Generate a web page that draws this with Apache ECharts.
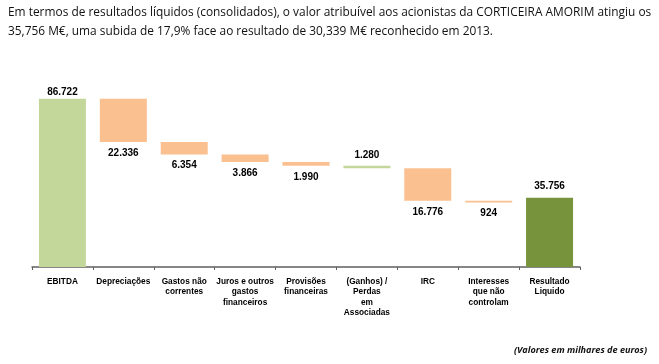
<!DOCTYPE html>
<html>
<head>
<meta charset="utf-8">
<script src="https://cdn.jsdelivr.net/npm/echarts@6/dist/echarts.min.js"></script>
<style>
html,body{margin:0;padding:0;background:#fff;}
#c{width:659px;height:364px;}
</style>
</head>
<body>
<div id="c"></div>
<script>
var titleLines = [
  "Em termos de resultados líquidos (consolidados), o valor atribuível aos acionistas da CORTICEIRA AMORIM atingiu os",
  "35,756 M€, uma subida de 17,9% face ao resultado de 30,339 M€ reconhecido em 2013."
];
var footnote = "(Valores em milhares de euros)";
var categories = ["EBITDA", "Depreciações", "Gastos não\ncorrentes", "Juros e outros\ngastos\nfinanceiros",
  "Provisões\nfinanceiras", "(Ganhos) /\nPerdas\nem\nAssociadas", "IRC", "Interesses\nque não\ncontrolam", "Resultado\nLiquido"];
// displayed amounts (thousand euros)
var amounts = [86722, 22336, 6354, 3866, 1990, 1280, 16776, 924, 35756];
// floating base of each bar as drawn in the picture
var bases = [0, 64386, 58032, 54166, 52176, 50896, 34120, 33196, 0];
// bar kind: total, decrease, increase
var kinds = ["total", "down", "down", "down", "down", "up", "down", "down", "final"];

var colors = { total: "#C4D79B", down: "#FAC090", up: "#C4D79B", final: "#77933C" };

function fmt(v) {
  return String(v).replace(/\B(?=(\d{3})+(?!\d))/g, ".");
}

var chart = echarts.init(document.getElementById("c"), null, { renderer: "canvas" });

var deltaData = amounts.map(function (v, i) {
  var k = kinds[i];
  var below = (k === "down");
  return {
    value: v,
    itemStyle: { color: colors[k] },
    label: {
      show: true,
      position: below ? "bottom" : "top",
      distance: below ? 6 : (k === "total" ? 2 : 6)
    }
  };
});

chart.setOption({
  animation: false,
  backgroundColor: "#ffffff",
  grid: { left: 32, right: 79, top: 73, bottom: 97, containLabel: false },
  xAxis: {
    type: "category",
    data: categories,
    boundaryGap: true,
    axisLine: { show: true, lineStyle: { color: "#5f5f5f", width: 1.5 } },
    axisTick: { show: true, alignWithLabel: false, length: 3, lineStyle: { color: "#5f5f5f", width: 1 } },
    axisLabel: {
      interval: 0,
      margin: 9,
      color: "#000",
      fontFamily: "Liberation Sans, Arial, sans-serif",
      fontWeight: "bold",
      fontSize: 8.3,
      lineHeight: 10.5
    }
  },
  yAxis: {
    type: "value",
    min: 0,
    max: 100000,
    show: false,
    splitLine: { show: false }
  },
  series: [
    {
      type: "bar",
      stack: "w",
      barWidth: 47,
      silent: true,
      itemStyle: { color: "rgba(0,0,0,0)" },
      data: bases
    },
    {
      type: "bar",
      stack: "w",
      barWidth: 47,
      label: {
        show: true,
        color: "#000",
        fontFamily: "Liberation Sans, Arial, sans-serif",
        fontWeight: "bold",
        fontSize: 10,
        formatter: function (p) { return fmt(p.value); }
      },
      data: deltaData
    }
  ],
  graphic: [
    {
      type: "text", left: 8, top: 7,
      style: { text: titleLines[0], fontFamily: "Open Sans, sans-serif", fontSize: 11.9, fill: "#111" }
    },
    {
      type: "text", left: 8, top: 26,
      style: { text: titleLines[1], fontFamily: "Open Sans, sans-serif", fontSize: 11.9, fill: "#111" }
    },
    {
      type: "text", right: 12, top: 346,
      style: { text: footnote, fontFamily: "Open Sans, sans-serif", fontSize: 9.1, fontWeight: "bold", fontStyle: "italic", fill: "#111" }
    }
  ]
});
</script>
</body>
</html>
